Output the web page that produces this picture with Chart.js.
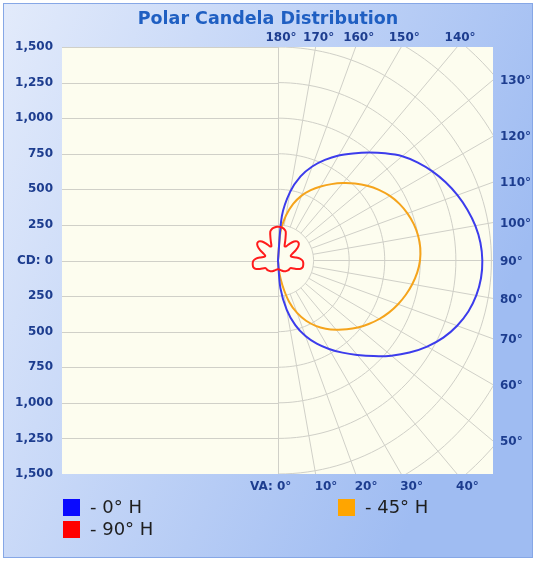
<!DOCTYPE html>
<html lang="en">
<head>
<meta charset="UTF-8">
<title>Polar Candela Distribution</title>
<script src="https://cdn.jsdelivr.net/npm/chart.js"></script>
<style>
  html, body { margin: 0; padding: 0; background: #fff; }
  #wrap { width: 536px; height: 563px; }
</style>
</head>
<body>
<div id="wrap"><canvas id="polarChart" width="536" height="563"></canvas></div>
<script>
// vertical angles (deg from nadir) where candela was read
const verticalAngles = [0, 5, 10, 15, 20, 25, 30, 35, 40, 45, 50, 55, 60, 65, 70, 75, 80, 85, 90,
  95, 100, 105, 110, 115, 120, 125, 130, 135, 140, 145, 150, 155, 160, 165, 170, 175, 180];

// candela per horizontal plane
const cd0H = [0, 195, 350, 470, 565, 645, 718, 790, 866, 950, 1040, 1128, 1210, 1282, 1340, 1385, 1415, 1432, 1436,
  1428, 1408, 1378, 1342, 1300, 1253, 1200, 1140, 1065, 990, 918, 852, 780, 703, 612, 490, 315, 0];
const cd45H = [0, 70, 175, 300, 392, 467, 530, 585, 635, 684, 732, 778, 822, 862, 898, 930, 958, 982, 998,
  1004, 1000, 988, 968, 942, 908, 866, 818, 765, 710, 655, 600, 545, 485, 412, 320, 200, 0];
const cd90H = [60, 62, 65, 70, 75, 82, 88, 92, 95, 98, 100, 100, 105, 140, 170, 180, 180, 178, 172,
  155, 125, 100, 95, 110, 145, 175, 190, 190, 175, 145, 115, 110, 150, 210, 228, 235, 237];

// tick labels
const angleTicks = [0, 10, 20, 30, 40, 50, 60, 70, 80, 90, 100, 110, 120, 130, 140, 150, 160, 170, 180];
const cdMax = 1500;
const cdStep = 250;

const rad = d => d * Math.PI / 180;
function toXY(values, mirror) {
  const pts = verticalAngles.map((a, i) => ({ x: values[i] * Math.sin(rad(a)), y: -values[i] * Math.cos(rad(a)) }));
  if (!mirror) return pts;
  // other side of the plane (270 H) drawn on the left
  const back = pts.slice().reverse().map(p => ({ x: -p.x, y: p.y }));
  return pts.concat(back);
}

const labelFont = { family: 'DejaVu Sans', size: 12, weight: 'bold' };
const navy = '#1d3d8f';

const polarGrid = {
  id: 'polarGrid',
  beforeDraw(chart) {
    const { ctx, chartArea: a, scales: { x, y } } = chart;
    const px = (r, d) => x.getPixelForValue(r * Math.sin(rad(d)));
    const py = (r, d) => y.getPixelForValue(-r * Math.cos(rad(d)));
    ctx.save();
    ctx.fillStyle = '#ffffff';
    ctx.fillRect(0, 0, chart.width, chart.height);
    const g = ctx.createLinearGradient(0, 0, chart.width, chart.height * 0.4);
    g.addColorStop(0, '#e3ebfb');
    g.addColorStop(1, '#9fbcf2');
    ctx.fillStyle = g;
    ctx.fillRect(3, 3, chart.width - 6, chart.height - 8);
    ctx.strokeStyle = '#86a7e6';
    ctx.strokeRect(3.5, 3.5, chart.width - 7, chart.height - 9);

    ctx.fillStyle = '#fdfdef';
    ctx.fillRect(a.left, a.top, a.right - a.left, a.bottom - a.top);
    ctx.beginPath();
    ctx.rect(a.left, a.top, a.right - a.left, a.bottom - a.top);
    ctx.clip();

    ctx.strokeStyle = '#d0d0c8';
    ctx.lineWidth = 1;
    const x0 = Math.round(x.getPixelForValue(0)) + 0.5;
    ctx.beginPath();
    y.ticks.forEach(t => {
      const yy = Math.round(y.getPixelForValue(t.value)) + 0.5;
      ctx.moveTo(a.left, yy);
      ctx.lineTo(x0, yy);
    });
    ctx.moveTo(x0, a.top);
    ctx.lineTo(x0, a.bottom);
    ctx.stroke();

    const rMax = Math.hypot(Math.max(-x.min, x.max), Math.max(y.max, -y.min));
    ctx.beginPath();
    for (let r = cdStep; r <= rMax; r += cdStep) {
      for (let d = 0; d <= 180; d += 2) {
        if (d === 0) ctx.moveTo(px(r, d), py(r, d));
        else ctx.lineTo(px(r, d), py(r, d));
      }
    }
    angleTicks.forEach(d => {
      if (d === 0 || d === 180) return;
      ctx.moveTo(px(cdStep, d), py(cdStep, d));
      ctx.lineTo(px(rMax * 1.5, d), py(rMax * 1.5, d));
    });
    ctx.stroke();
    ctx.restore();
  },
  afterDraw(chart) {
    const { ctx, chartArea: a, scales: { x, y } } = chart;
    ctx.save();
    // title
    ctx.fillStyle = '#1f5fc2';
    ctx.font = 'bold 17.5px "DejaVu Sans"';
    ctx.textAlign = 'center';
    ctx.textBaseline = 'middle';
    ctx.fillText('Polar Candela Distribution', chart.width / 2, 19);

    // vertical angle labels where each spoke leaves the plot
    ctx.font = 'bold 12px "DejaVu Sans"';
    ctx.fillStyle = navy;
    angleTicks.forEach(d => {
      const s = Math.sin(rad(d)), c = Math.cos(rad(d));
      const tx = s > 1e-9 ? x.max / s : Infinity;
      const ty = c < -1e-9 ? y.max / -c : (c > 1e-9 ? -y.min / c : Infinity);
      const t = Math.min(tx, ty);
      const ex = x.getPixelForValue(t * s), ey = y.getPixelForValue(-t * c);
      const txt = d + '°';
      if (t === tx) {
        ctx.textAlign = 'left';
        ctx.fillText(txt, a.right + 7, ey + 1);
      } else if (c < 0) {
        ctx.textAlign = 'center';
        ctx.fillText(txt, ex + 3, a.top - 9);
      } else {
        ctx.textAlign = 'left';
        const pre = d === 0 ? 'VA: ' : '';
        ctx.fillText(pre + txt, ex - 1 - ctx.measureText(pre).width, a.bottom + 13);
      }
    });

    // legend
    ctx.font = '18px "DejaVu Sans"';
    ctx.textAlign = 'left';
    const slots = [[a.left + 1, 0], [338, 0], [a.left + 1, 1]];
    chart.data.datasets.forEach((ds, i) => {
      const [lx, row] = slots[i];
      const ly = a.bottom + 25 + row * 22;
      ctx.fillStyle = ds.legendColor;
      ctx.fillRect(lx, ly, 17, 17);
      ctx.fillStyle = '#1e1e1e';
      ctx.fillText('- ' + ds.label, lx + 27, ly + 9);
    });
    ctx.restore();
  }
};

new Chart(document.getElementById('polarChart'), {
  type: 'scatter',
  data: {
    datasets: [
      { label: '0° H', data: toXY(cd0H), borderColor: '#3c3cec', legendColor: '#0a0aff', order: 1 },
      { label: '45° H', data: toXY(cd45H), borderColor: '#f5a41c', legendColor: '#ffa500', order: 2 },
      { label: '90° H', data: toXY(cd90H, true), borderColor: '#ff1c1c', legendColor: '#ff0000', order: 0 }
    ].map(d => Object.assign(d, { showLine: true, pointRadius: 0, borderWidth: 2, fill: false, tension: 0.3 }))
  },
  options: {
    responsive: false,
    animation: false,
    layout: { padding: { left: 0, top: 47, right: 43, bottom: 89 } },
    scales: {
      x: { type: 'linear', display: false, min: -1518, max: 1511 },
      y: {
        type: 'linear',
        min: -cdMax,
        max: cdMax,
        afterFit(s) { s.width = 62; },
        grid: { display: false, drawTicks: false },
        border: { display: false },
        ticks: {
          stepSize: cdStep,
          autoSkip: false,
          padding: 9,
          color: navy,
          font: labelFont,
          callback: v => v === 0 ? 'CD: 0' : Math.abs(v).toLocaleString('en-US')
        }
      }
    },
    plugins: { legend: { display: false }, title: { display: false }, tooltip: { enabled: false } }
  },
  plugins: [polarGrid]
});
</script>
</body>
</html>
